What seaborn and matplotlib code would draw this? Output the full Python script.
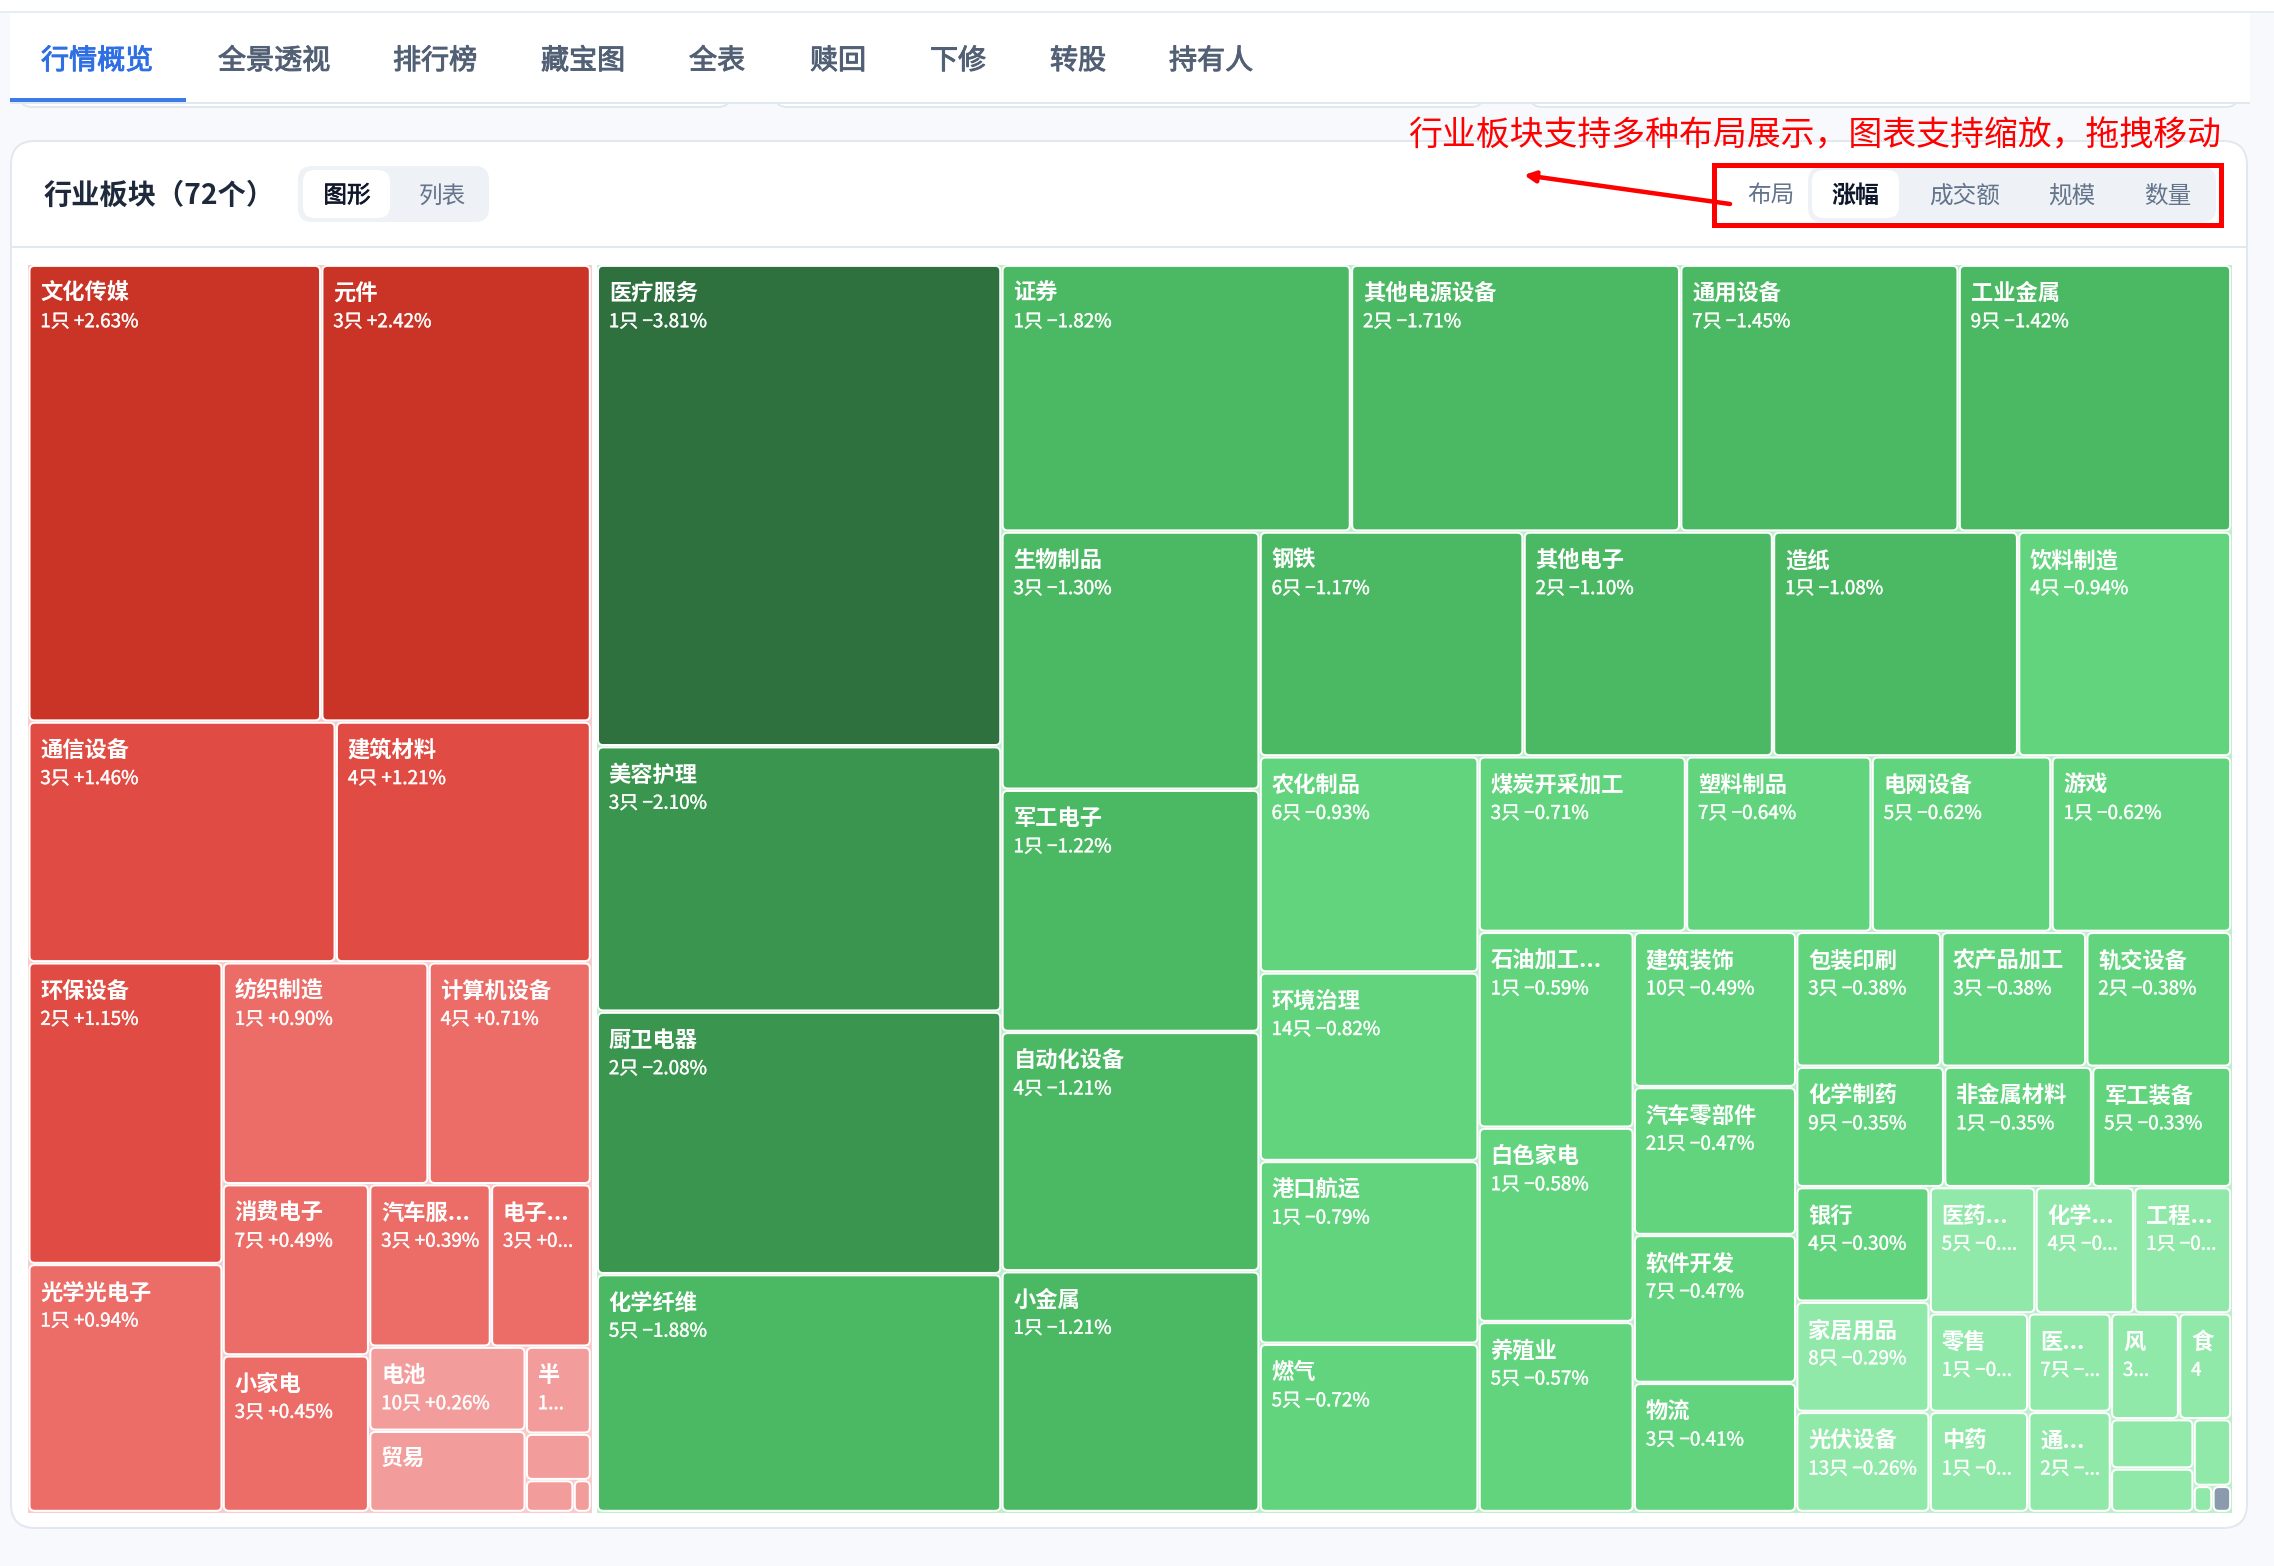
import matplotlib
matplotlib.use("Agg")
import matplotlib.pyplot as plt
import matplotlib.patheffects as pe
from matplotlib.patches import FancyBboxPatch, Rectangle
import seaborn as sns

# ---------- data ----------
red_names = ["文化传媒", "元件", "通信设备", "建筑材料", "环保设备", "光学光电子", "纺织制造", "计算机设备",
             "消费电子", "小家电", "汽车服...", "电子...", "电池", "贸易", "半", "_r1", "_r2", "_r3"]
red_subs = ["1只 +2.63%", "3只 +2.42%", "3只 +1.46%", "4只 +1.21%", "2只 +1.15%", "1只 +0.94%", "1只 +0.90%", "4只 +0.71%",
            "7只 +0.49%", "3只 +0.45%", "3只 +0.39%", "3只 +0...", "10只 +0.26%", "", "1...", "", "", ""]
red_pct = [2.63, 2.42, 1.46, 1.21, 1.15, 0.94, 0.90, 0.71, 0.49, 0.45, 0.39, 0.38, 0.26, 0.25, 0.22, 0.2, 0.15, 0.1]
red_area = [63630, 58590, 35192, 29216, 27872, 22914, 21726, 17136, 11918, 10908, 9408, 7728, 6264, 6048, 2700, 1440, 726, 264]

green_names = ["医疗服务", "美容护理", "厨卫电器", "化学纤维", "证券", "其他电源设备", "通用设备", "工业金属",
               "生物制品", "军工电子", "自动化设备", "小金属", "钢铁", "其他电子", "造纸", "饮料制造",
               "农化制品", "环境治理", "港口航运", "燃气", "煤炭开采加工", "塑料制品", "电网设备", "游戏",
               "石油加工...", "白色家电", "养殖业", "建筑装饰", "汽车零部件", "软件开发", "物流",
               "包装印刷", "农产品加工", "轨交设备", "化学制药", "非金属材料", "军工装备",
               "银行", "家居用品", "光伏设备", "医药...", "化学...", "工程...",
               "零售", "医...", "中药", "通...", "风", "食", "_g1", "_g2", "_g3", "_g4", "_g5"]
green_subs = ["1只 −3.81%", "3只 −2.10%", "2只 −2.08%", "5只 −1.88%", "1只 −1.82%", "2只 −1.71%", "7只 −1.45%", "9只 −1.42%",
              "3只 −1.30%", "1只 −1.22%", "4只 −1.21%", "1只 −1.21%", "6只 −1.17%", "2只 −1.10%", "1只 −1.08%", "4只 −0.94%",
              "6只 −0.93%", "14只 −0.82%", "1只 −0.79%", "5只 −0.72%", "3只 −0.71%", "7只 −0.64%", "5只 −0.62%", "1只 −0.62%",
              "1只 −0.59%", "1只 −0.58%", "5只 −0.57%", "10只 −0.49%", "21只 −0.47%", "7只 −0.47%", "3只 −0.41%",
              "3只 −0.38%", "3只 −0.38%", "2只 −0.38%", "9只 −0.35%", "1只 −0.35%", "5只 −0.33%",
              "4只 −0.30%", "8只 −0.29%", "13只 −0.26%", "5只 −0....", "4只 −0...", "1只 −0...",
              "1只 −0...", "7只 −...", "1只 −0...", "2只 −...", "3...", "4", "", "", "", "", ""]
green_pct = [-3.81, -2.10, -2.08, -1.88, -1.82, -1.71, -1.45, -1.42,
             -1.30, -1.22, -1.21, -1.21, -1.17, -1.10, -1.08, -0.94,
             -0.93, -0.82, -0.79, -0.72, -0.71, -0.64, -0.62, -0.62,
             -0.59, -0.58, -0.57, -0.49, -0.47, -0.47, -0.41,
             -0.38, -0.38, -0.38, -0.35, -0.35, -0.33,
             -0.30, -0.29, -0.26, -0.29, -0.28, -0.28,
             -0.26, -0.25, -0.24, -0.23, -0.22, -0.21, -0.2, -0.18, -0.15, -0.1, 0.0]
green_area = [92628, 51057, 50499, 45756, 44344, 41768, 35328, 34592,
              31684, 29726, 29370, 29548, 28210, 26660, 26195, 22785,
              22499, 19630, 19026, 17516, 17303, 15488, 15004, 15004,
              14445, 14338, 14017, 11984, 11424, 11424, 9968,
              9300, 9300, 9300, 8466, 8466, 7968,
              7268, 6992, 6348, 6351, 5916, 5829,
              4624, 3876, 4692, 3933, 3431, 2628, 1938, 1710, 1196, 234, 234]

tab_labels = ["行情概览", "全景透视", "排行榜", "藏宝图", "全表", "赎回", "下修", "转股", "持有人"]
title_label = "行业板块（72个）"
view_labels = ["图形", "列表"]
layout_label = "布局"
layout_options = ["涨幅", "成交额", "规模", "数量"]
note_label = "行业板块支持多种布局展示，图表支持缩放，拖拽移动"

# Nesting of the treemap: 'H' = side by side, 'V' = stacked
red_tree = ("V", [
    ("H", ["文化传媒", "元件"]),
    ("H", ["通信设备", "建筑材料"]),
    ("H", [
        ("V", ["环保设备", "光学光电子"]),
        ("V", [
            ("H", ["纺织制造", "计算机设备"]),
            ("H", [
                ("V", ["消费电子", "小家电"]),
                ("V", [
                    ("H", ["汽车服...", "电子..."]),
                    ("H", [
                        ("V", ["电池", "贸易"]),
                        ("V", ["半", "_r1", ("H", ["_r2", "_r3"])]),
                    ]),
                ]),
            ]),
        ]),
    ]),
])
green_tree = ("H", [
    ("V", ["医疗服务", "美容护理", "厨卫电器", "化学纤维"]),
    ("V", [
        ("H", ["证券", "其他电源设备", "通用设备", "工业金属"]),
        ("H", [
            ("V", ["生物制品", "军工电子", "自动化设备", "小金属"]),
            ("V", [
                ("H", ["钢铁", "其他电子", "造纸", "饮料制造"]),
                ("H", [
                    ("V", ["农化制品", "环境治理", "港口航运", "燃气"]),
                    ("V", [
                        ("H", ["煤炭开采加工", "塑料制品", "电网设备", "游戏"]),
                        ("H", [
                            ("V", ["石油加工...", "白色家电", "养殖业"]),
                            ("V", ["建筑装饰", "汽车零部件", "软件开发", "物流"]),
                            ("V", [
                                ("H", ["包装印刷", "农产品加工", "轨交设备"]),
                                ("H", ["化学制药", "非金属材料", "军工装备"]),
                                ("H", [
                                    ("V", ["银行", "家居用品", "光伏设备"]),
                                    ("V", [
                                        ("H", ["医药...", "化学...", "工程..."]),
                                        ("H", [
                                            ("V", [("H", ["零售", "医..."]), ("H", ["中药", "通..."])]),
                                            ("V", [
                                                ("H", ["风", "食"]),
                                                ("H", [
                                                    ("V", ["_g1", "_g2"]),
                                                    ("V", ["_g3", ("H", ["_g4", "_g5"])]),
                                                ]),
                                            ]),
                                        ]),
                                    ]),
                                ]),
                            ]),
                        ]),
                    ]),
                ]),
            ]),
        ]),
    ]),
])

# ---------- theme ----------
sns.set_theme(style="white")
FONT = ["Noto Sans CJK SC", "DejaVu Sans"]
plt.rcParams["font.family"] = FONT
reds = sns.color_palette(["#f39c9c", "#ec6c68", "#e04c43", "#c93427"])
greens = sns.color_palette(["#90e9a9", "#62d47e", "#4bb963", "#3a964f", "#2e713f"])
NEUTRAL = "#8c9aad"


def tile_colour(p):
    if p == 0:
        return NEUTRAL
    a = abs(p)
    if p > 0:
        return reds[0 if a < 0.3 else 1 if a < 1 else 2 if a < 2 else 3]
    return greens[0 if a < 0.3 else 1 if a < 1 else 2 if a < 2 else 3 if a < 3 else 4]


fig = plt.figure(figsize=(22.74, 15.66), dpi=100, facecolor="#f7f9fd")
ax = fig.add_axes([0, 0, 1, 1])
ax.set_xlim(0, 2274)
ax.set_ylim(1566, 0)
ax.axis("off")
PX = 72 / 100


def box(x0, y0, x1, y1, fc, ec="none", lw=0, r=0, z=1):
    p = FancyBboxPatch((x0, y0), x1 - x0, y1 - y0, boxstyle=f"round,pad=0,rounding_size={r}",
                       fc=fc, ec=ec, lw=lw * PX, zorder=z)
    ax.add_patch(p)
    return p


def medium(colour, width=0.45):
    return [pe.withStroke(linewidth=width, foreground=colour)]


# ---------- page chrome ----------
for x0, x1 in [(20, 730), (775, 1483), (1530, 2238)]:
    box(x0, 60, x1, 107, "#ffffff", "#e2e8f0", 2, 12, 1)
ax.add_patch(Rectangle((10, 13), 2240, 90, fc="#ffffff", ec="none", zorder=2))
ax.add_patch(Rectangle((0, 0), 2274, 12, fc="#ffffff", ec="none", zorder=2))
ax.add_patch(Rectangle((0, 11), 2274, 2, fc="#e8edf3", ec="none", zorder=3))
ax.add_patch(Rectangle((10, 102), 2240, 2, fc="#e2e8f0", ec="none", zorder=3))
ax.add_patch(Rectangle((10, 98), 176, 4, fc="#3b7bea", ec="none", zorder=4))

tab_x = [41, 218, 393, 541, 689, 810, 930, 1050, 1169]
for i, (lab, x) in enumerate(zip(tab_labels, tab_x)):
    colour = "#2f6fe4" if i == 0 else "#526075"
    ax.text(x, 61, lab, fontsize=20.2, color=colour, va="center", ha="left", zorder=5,
            path_effects=medium(colour, 0.7))

box(11, 141, 2247, 1528, "#ffffff", "#e2e8f0", 2, 24, 3)
ax.plot([12, 2246], [247, 247], color="#e2e8f0", lw=2 * PX, zorder=4)

ax.text(44, 196, title_label, fontsize=20.3, fontweight="bold", color="#1e293b", va="center", ha="left", zorder=5)
box(298, 166, 489, 222, "#eef1f6", r=14, z=4)
box(303, 170, 390, 218, "#ffffff", r=12, z=5)
ax.text(347, 196, view_labels[0], fontsize=17, color="#0f172a", va="center", ha="center", zorder=6,
        path_effects=medium("#0f172a", 0.5))
ax.text(442, 196, view_labels[1], fontsize=17, color="#64748b", va="center", ha="center", zorder=6)

ax.text(1771, 196, layout_label, fontsize=17, color="#64748b", va="center", ha="center", zorder=6)
box(1808, 167, 2216, 222, "#eef1f6", r=14, z=4)
box(1812, 170, 1899, 218, "#ffffff", r=12, z=5)
for i, (lab, x) in enumerate(zip(layout_options, [1856, 1965, 2072, 2168])):
    ax.text(x, 196, lab, fontsize=17.3 if i == 0 else 17, fontweight="bold" if i == 0 else "normal",
            color="#0f172a" if i == 0 else "#64748b", va="center", ha="center", zorder=6)


# ---------- treemap ----------
def tree_area(node, areas):
    if isinstance(node, str):
        return areas[node]
    return sum(tree_area(c, areas) for c in node[1])


def layout(node, x0, y0, x1, y1, areas, out):
    if isinstance(node, str):
        out[node] = (x0, y0, x1, y1)
        return
    kind, children = node
    total = tree_area(node, areas)
    pos = x0 if kind == "H" else y0
    for c in children:
        frac = tree_area(c, areas) / total
        if kind == "H":
            nxt = pos + frac * (x1 - x0)
            layout(c, pos, y0, nxt, y1, areas, out)
        else:
            nxt = pos + frac * (y1 - y0)
            layout(c, x0, pos, x1, nxt, areas, out)
        pos = nxt


def draw_group(tree, names, subs, pcts, areas, region, back):
    area_of = dict(zip(names, areas))
    rects = {}
    layout(tree, *region, area_of, rects)
    ax.add_patch(Rectangle(region[:2], region[2] - region[0], region[3] - region[1], fc=back, ec=back,
                           lw=1 * PX, zorder=5))
    for name, sub, pct in zip(names, subs, pcts):
        x0, y0, x1, y1 = rects[name]
        inset = 1.2
        box(x0 + inset, y0 + inset, x1 - inset, y1 - inset, tile_colour(pct), "#ffffff", 2, 5, 6)
        if not name.startswith("_"):
            ax.text(x0 + 12, y0 + 29, name, fontsize=16, fontweight="bold", color="#ffffff",
                    va="center", ha="left", zorder=7)
        if sub:
            ax.text(x0 + 12, y0 + 57, sub, fontsize=13.6, color="#ffffff", alpha=0.88,
                    va="center", ha="left", zorder=7, path_effects=medium("#ffffff", 0.35))


draw_group(red_tree, red_names, red_subs, red_pct, red_area, (28.3, 264.7, 591, 1512), "#fbcaca")
draw_group(green_tree, green_names, green_subs, green_pct, green_area, (596.8, 264.7, 2231.3, 1512), "#bdf0ca")

# ---------- red annotation ----------
ax.text(1408, 136, note_label, fontsize=24.4, color="#ff0000", va="center", ha="left", zorder=8)
ax.add_patch(Rectangle((1714, 165), 507, 60, fc="none", ec="#ff0000", lw=5 * PX, zorder=8))
ax.annotate("", xy=(1524, 175), xytext=(1730, 204), zorder=8,
            arrowprops=dict(arrowstyle="-|>", color="#ff0000", lw=4.5 * PX, mutation_scale=16,
                            shrinkA=0, shrinkB=0))

fig.savefig("out.png", dpi=100, facecolor=fig.get_facecolor())
